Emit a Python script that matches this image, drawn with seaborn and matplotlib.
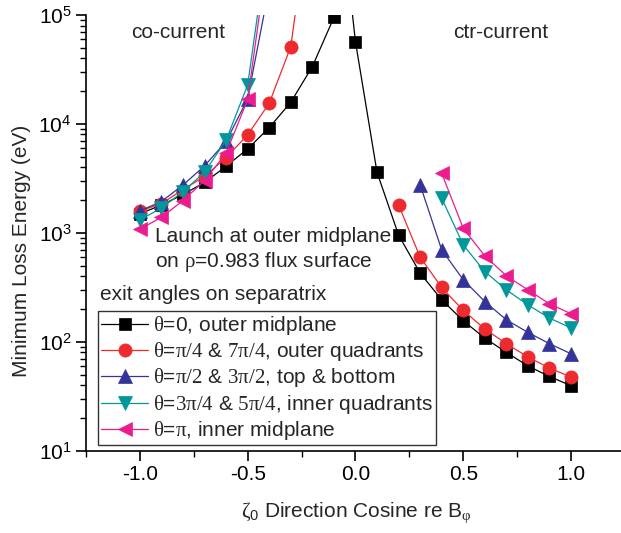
import matplotlib
matplotlib.use("Agg")
import matplotlib.pyplot as plt
import seaborn as sns
import numpy as np
import pandas as pd
from matplotlib.ticker import FixedLocator, FuncFormatter, LogLocator, NullFormatter

# ---------------- data ----------------
# theta = 0 (black squares) - one continuous curve
x_black = [-1.0, -0.9, -0.8, -0.7, -0.6, -0.5, -0.4, -0.3, -0.2, -0.1, -0.05,
           0.0, 0.1, 0.2, 0.3, 0.4, 0.5, 0.6, 0.7, 0.8, 0.9, 1.0]
y_black = [1500, 1800, 2250, 2900, 4090, 5900, 9250, 15800, 33600, 95000, 450000,
           56900, 3600, 955, 427, 243, 156, 108, 80, 60, 48, 39.5]

# theta = pi/4 (red circles)
x_red_co = [-1.0, -0.9, -0.8, -0.7, -0.6, -0.5, -0.4, -0.3, -0.2]
y_red_co = [1590, 1850, 2500, 3300, 4910, 7930, 15500, 51200, 1.5e6]
x_red_ctr = [0.2, 0.3, 0.4, 0.5, 0.6, 0.7, 0.8, 0.9, 1.0]
y_red_ctr = [1807, 598, 315, 194, 131, 96, 72.5, 57.4, 47.4]

# theta = pi/2 (blue up-triangles)
x_blue_co = [-1.0, -0.9, -0.8, -0.7, -0.6, -0.5, -0.4]
y_blue_co = [1590, 1940, 2750, 4120, 6900, 17000, 1.8e5]
x_blue_ctr = [0.3, 0.4, 0.5, 0.6, 0.7, 0.8, 0.9, 1.0]
y_blue_ctr = [2760, 698, 371, 234, 159, 122, 96, 77.6]

# theta = 3pi/4 (cyan down-triangles)
x_cyan_co = [-1.0, -0.9, -0.8, -0.7, -0.6, -0.5, -0.4]
y_cyan_co = [1315, 1690, 2390, 3600, 7100, 22800, 5.8e5]
x_cyan_ctr = [0.4, 0.5, 0.6, 0.7, 0.8, 0.9, 1.0]
y_cyan_ctr = [2080, 776, 441, 300, 218, 165, 134]

# theta = pi (magenta left-triangles)
x_mag_co = [-1.0, -0.9, -0.8, -0.7, -0.6, -0.5, -0.4]
y_mag_co = [1080, 1390, 1980, 3020, 5380, 16800, 4.5e5]
x_mag_ctr = [0.4, 0.5, 0.6, 0.7, 0.8, 0.9, 1.0]
y_mag_ctr = [3530, 1100, 615, 403, 300, 223, 181]

labels = [
    r"$\mathrm{\theta}$=0, outer midplane",
    r"$\mathrm{\theta}$=$\mathrm{\pi/4}$ & $\mathrm{7\pi/4}$, outer quadrants",
    r"$\mathrm{\theta}$=$\mathrm{\pi/2}$ & $\mathrm{3\pi/2}$, top & bottom",
    r"$\mathrm{\theta}$=$\mathrm{3\pi/4}$ & $\mathrm{5\pi/4}$, inner quadrants",
    r"$\mathrm{\theta}$=$\mathrm{\pi}$, inner midplane",
]
x_ticks = [-1.0, -0.5, 0.0, 0.5, 1.0]
x_tick_labels = ["-1.0", "-0.5", "0.0", "0.5", "1.0"]

# ---------------- style ----------------
sns.set_style("ticks")
plt.rcParams["font.family"] = ["Liberation Sans", "DejaVu Sans"]
plt.rcParams["mathtext.fontset"] = "custom"
plt.rcParams["mathtext.rm"] = "Liberation Serif"
plt.rcParams["mathtext.it"] = "Liberation Serif:italic"
plt.rcParams["mathtext.sf"] = "Liberation Sans"
plt.rcParams["font.size"] = 15

colors = ["#000000", "#ED2A2E", "#343399", "#00979C", "#EB1C8E"]
markers = ["s", "o", "^", "v", "<"]
msizes = [8.3, 9.5, 10, 10, 10]

fig = plt.figure(figsize=(6.21, 5.33), dpi=100)
ax = fig.add_axes([86 / 621, 1 - 450.7 / 533, (620.6 - 86) / 621, (450.7 - 15) / 533])

segments = [
    [(x_black, y_black)],
    [(x_red_co, y_red_co), (x_red_ctr, y_red_ctr)],
    [(x_blue_co, y_blue_co), (x_blue_ctr, y_blue_ctr)],
    [(x_cyan_co, y_cyan_co), (x_cyan_ctr, y_cyan_ctr)],
    [(x_mag_co, y_mag_co), (x_mag_ctr, y_mag_ctr)],
]

for i, segs in enumerate(segments):
    for j, (xs, ys) in enumerate(segs):
        df = pd.DataFrame({"x": xs, "y": ys})
        sns.lineplot(data=df, x="x", y="y", ax=ax, color=colors[i],
                     marker=markers[i], markersize=msizes[i],
                     markeredgecolor=colors[i], markeredgewidth=0.5,
                     linewidth=0.9, estimator=None, sort=False,
                     label=labels[i] if j == 0 else None, legend=False)

ax.set_yscale("log")
ax.set_ylim(10, 1e5)
ax.set_xlim(-1.25, 1.23)
ax.xaxis.set_major_locator(FixedLocator(x_ticks))
ax.set_xticklabels(x_tick_labels)
ax.xaxis.set_minor_locator(FixedLocator([-1.25, -0.75, -0.25, 0.25, 0.75]))
ax.yaxis.set_major_locator(LogLocator(base=10, numticks=10))
ax.yaxis.set_minor_locator(LogLocator(base=10, subs=np.arange(2, 10), numticks=50))
ax.yaxis.set_minor_formatter(NullFormatter())
ax.yaxis.set_major_formatter(FuncFormatter(lambda v, p: r"$\mathsf{10^{%d}}$" % int(round(np.log10(v)))))

for s in ["top", "right"]:
    ax.spines[s].set_visible(False)
for s in ["left", "bottom"]:
    ax.spines[s].set_linewidth(1.2)
    ax.spines[s].set_color("black")
ax.tick_params(which="major", direction="out", length=7, width=1.2, labelsize=15, colors="black")
ax.tick_params(which="minor", direction="out", length=4, width=1.0, colors="black")
ax.set_xlabel("")
ax.set_ylabel("")

fig.text(22 / 621, 1 - 251 / 533, "Minimum Loss Energy (eV)", rotation=90,
         ha="center", va="center", fontsize=15)
fig.text(356 / 621, 1 - 513 / 533, r"$\mathrm{\zeta}_{\mathsf{0}}$ Direction Cosine re B$_{\mathrm{\varphi}}$",
         ha="center", va="center", fontsize=15)

fig.text(131 / 621, 1 - 33 / 533, "co-current", fontsize=15, ha="left", va="center")
fig.text(453 / 621, 1 - 33 / 533, "ctr-current", fontsize=15, ha="left", va="center")
fig.text(155 / 621, 1 - 236 / 533, "Launch at outer midplane", fontsize=15, ha="left", va="center")
fig.text(155 / 621, 1 - 262 / 533, r"on $\mathrm{\rho}$=0.983 flux surface", fontsize=15, ha="left", va="center")
fig.text(100 / 621, 1 - 295 / 533, "exit angles on separatrix", fontsize=15, ha="left", va="center")

handles, labs = ax.get_legend_handles_labels()
leg = ax.legend(handles, labs, loc="upper left", bbox_to_anchor=(98 / 621, 1 - 310.7 / 533),
                bbox_transform=fig.transFigure, borderaxespad=0, frameon=True, fancybox=False,
                fontsize=15, handlelength=2.25, handletextpad=0.25, labelspacing=0.16,
                borderpad=0.15)
leg.get_frame().set_edgecolor("black")
leg.get_frame().set_linewidth(1.0)

fig.savefig("out.png", dpi=100)
